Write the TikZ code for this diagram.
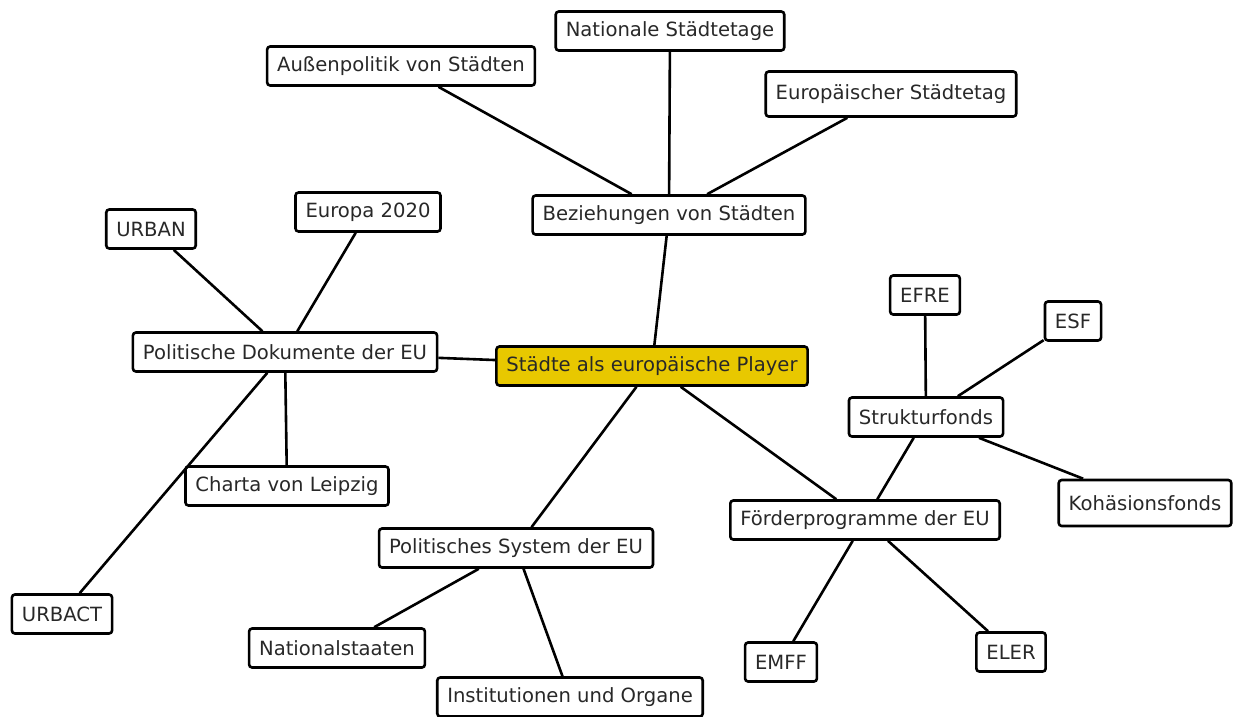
\documentclass[tikz,border=0pt]{standalone}
\usepackage{fontspec}
\setmainfont{DejaVu Sans}
\usepackage{xcolor}
\usepackage{tikz}
\usetikzlibrary{positioning}

\definecolor{playeryellow}{RGB}{232,200,0}
\definecolor{boxtext}{RGB}{40,40,40}

\tikzset{
    topic/.style={draw=black, line width=2.6pt, rounded corners=3pt, fill=white,
        text=boxtext, inner xsep=10pt, inner ysep=0pt, minimum height=39pt,
        font=\fontsize{19.6}{23}\selectfont},
    hub/.style={topic, fill=playeryellow},
    link/.style={draw=black, line width=2.6pt}
}

\begin{document}
\begin{tikzpicture}[x=1pt, y=-1pt]
    \useasboundingbox (0,0) rectangle (1233,716);

    % Mitte
    \node[hub] (player) at (652,366) {Städte als europäische Player};

    % Beziehungen
    \node[topic] (bez) at (669,215) {Beziehungen von Städten};
    \node[topic] (aussen) at (401,66) {Außenpolitik von Städten};
    \node[topic] (nattag) at (670,31) {Nationale Städtetage};
    \node[topic, minimum height=45pt] (eutag) at (891,94) {Europäischer Städtetag};

    % Dokumente
    \node[topic] (dok) at (285,352) {Politische Dokumente der EU};
    \node[topic] (urban) at (151,229) {URBAN};
    \node[topic] (europa) at (368,212) {Europa 2020};
    \node[topic] (charta) at (287,486) {Charta von Leipzig};
    \node[topic] (urbact) at (62,614) {URBACT};

    % System
    \node[topic] (system) at (516,548) {Politisches System der EU};
    \node[topic] (staaten) at (337,648) {Nationalstaaten};
    \node[topic] (organe) at (570,697) {Institutionen und Organe};

    % Foerderung
    \node[topic] (foerder) at (865,520) {Förderprogramme der EU};
    \node[topic] (emff) at (781,662) {EMFF};
    \node[topic] (eler) at (1011,652) {ELER};
    \node[topic] (struktur) at (926,417) {Strukturfonds};
    \node[topic] (efre) at (925,295) {EFRE};
    \node[topic] (esf) at (1073,321) {ESF};
    \node[topic, minimum height=46pt] (kohaesion) at (1145,503) {Kohäsionsfonds};

    \draw[link] (bez) -- (player);
    \draw[link] (aussen) -- (bez);
    \draw[link] (nattag) -- (bez);
    \draw[link] (eutag) -- (bez);

    \draw[link] (dok) -- (player);
    \draw[link] (urban) -- (dok);
    \draw[link] (europa) -- (dok);
    \draw[link] (charta) -- (dok);
    \draw[link] (urbact) -- (dok);

    \draw[link] (system) -- (player);
    \draw[link] (staaten) -- (system);
    \draw[link] (organe) -- (system);

    \draw[link] (foerder) -- (player);
    \draw[link] (emff) -- (foerder);
    \draw[link] (eler) -- (foerder);
    \draw[link] (struktur) -- (foerder);
    \draw[link] (efre) -- (struktur);
    \draw[link] (esf) -- (struktur);
    \draw[link] (kohaesion) -- (struktur);
\end{tikzpicture}
\end{document}
